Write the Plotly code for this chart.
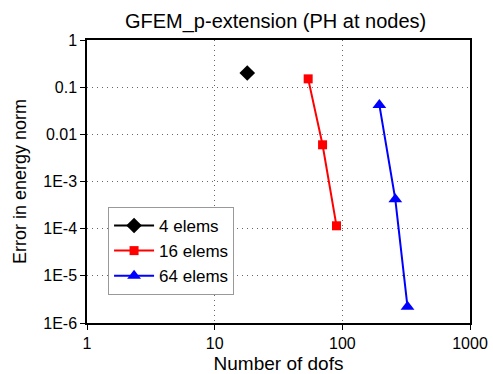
import plotly.graph_objects as go

x4 = [18]
y4 = [0.2]
x16 = [54, 70, 90]
y16 = [0.15, 0.006, 1.15e-4]
x64 = [195, 260, 324]
y64 = [0.042, 4.2e-4, 2.2e-6]

yticks = [1, 0.1, 0.01, 1e-3, 1e-4, 1e-5, 1e-6]
yticktext = ["1", "0.1", "0.01", "1E-3", "1E-4", "1E-5", "1E-6"]
xticks = [1, 10, 100, 1000]
xticktext = ["1", "10", "100", "1000"]

FONT = "Liberation Sans, Arial, sans-serif"

fig = go.Figure()
fig.add_trace(go.Scatter(x=x4, y=y4, name="4 elems", mode="lines+markers",
                         line=dict(color="black", width=2),
                         marker=dict(symbol="diamond", size=12, color="black")))
fig.add_trace(go.Scatter(x=x16, y=y16, name="16 elems", mode="lines+markers",
                         line=dict(color="red", width=2),
                         marker=dict(symbol="square", size=9, color="red")))
fig.add_trace(go.Scatter(x=x64, y=y64, name="64 elems", mode="lines+markers",
                         line=dict(color="blue", width=2),
                         marker=dict(symbol="triangle-up", size=12, color="blue")))

axis_common = dict(showline=True, linecolor="black", linewidth=1.5, mirror=True,
                   ticks="outside", ticklen=5, tickcolor="black", automargin=False,
                   showgrid=True, gridcolor="#666666", griddash="1px,4px", gridwidth=1,
                   zeroline=False, tickfont=dict(family=FONT, size=16, color="black"))

fig.update_xaxes(type="log", range=[0, 3], tickvals=xticks, ticktext=xticktext,
                 title=dict(text="Number of dofs", font=dict(family=FONT, size=19, color="black"), standoff=8),
                 **axis_common)
fig.update_yaxes(type="log", range=[-6, 0], tickvals=yticks, ticktext=yticktext,
                 title=dict(text="Error in energy norm", font=dict(family=FONT, size=18, color="black"), standoff=12),
                 **axis_common)

fig.update_layout(
    width=493, height=374,
    margin=dict(l=87, r=23, t=40, b=51),
    paper_bgcolor="white", plot_bgcolor="white",
    title=dict(text="GFEM_p-extension (PH at nodes)", x=0.559, xanchor="center", y=0.944, yanchor="middle",
               font=dict(family=FONT, size=20, color="black")),
    legend=dict(x=0.055, y=0.41, xanchor="left", yanchor="top",
                bgcolor="white", bordercolor="#999999", borderwidth=1,
                font=dict(family=FONT, size=17, color="black"),
                tracegroupgap=0, itemwidth=40),
    showlegend=True,
)

fig.write_html("out.html")
